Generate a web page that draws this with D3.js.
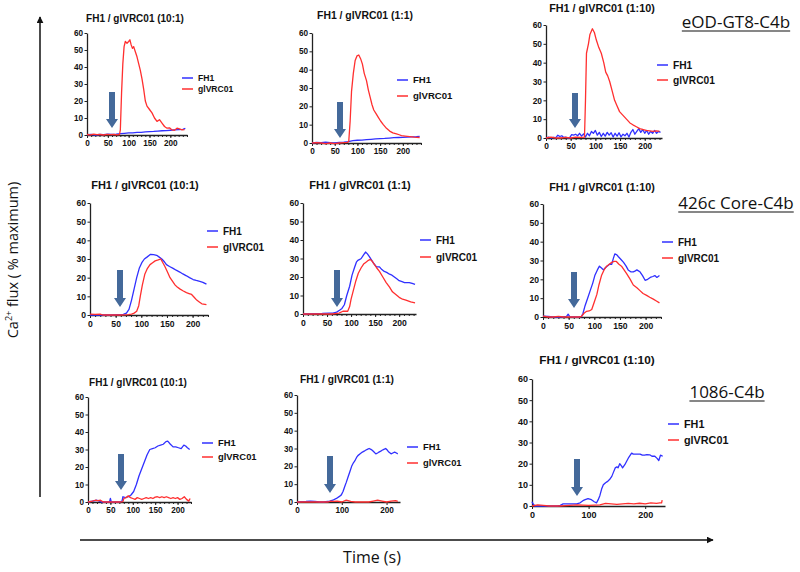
<!DOCTYPE html>
<html><head><meta charset="utf-8">
<script src="https://cdn.jsdelivr.net/npm/d3@7"></script>
<style>body{margin:0;background:#fff} svg{display:block}</style>
</head><body><svg id="c" width="800" height="572"></svg>
<script>
// ---------- DATA ----------
const antigens = ["eOD-GT8-C4b", "426c Core-C4b", "1086-C4b"];
const ratios = ["10:1", "1:1", "1:10"];
const seriesNames = ["FH1", "glVRC01"];
const yTickValues = [0, 10, 20, 30, 40, 50, 60];
const xTicksFine = [0, 50, 100, 150, 200];
const xTicksCoarse = [0, 100, 200];
const yAxisLabel = ["Ca", "2+", " flux ( % maximum)"];
const xAxisLabel = "Time (s)";

// eOD-GT8-C4b
const eod_r10_fh1 = [[0,0.2],[10,0.4],[20,0],[30,0.3],[40,0.2],[50,0.5],[60,0.3],[70,0.5],[80,0.8],[90,1],[100,1.2],[110,1.3],[120,1.5],[130,1.6],[140,1.8],[150,2],[160,2.1],[170,2.3],[180,2.5],[190,2.6],[200,2.8],[210,3],[220,3.2],[230,3.3],[236,3.9]];
const eod_r10_gl = [[0,0.3],[8,0.1],[16,0.5],[24,0.2],[32,0.3],[40,0],[48,0.4],[56,0.2],[64,0.3],[72,0.1],[78,0.3],[80,3],[83,25],[86,42],[89,52],[92,55],[96,54],[100,55],[103,56],[106,53],[109,51],[112,52],[116,49],[120,46],[124,42],[128,38],[132,33],[136,27],[140,20],[144,17],[150,15],[156,13],[162,10],[168,8],[174,9],[180,7],[186,5],[192,4],[198,4.2],[204,3],[210,2.8],[216,4],[222,3.6],[228,3],[234,3.2]];
const eod_r1_fh1 = [[0,0],[10,0.3],[20,0.2],[30,0.5],[40,0.2],[50,0],[60,0.3],[70,0.5],[80,0.8],[90,1.3],[100,1.5],[110,1.6],[120,1.8],[130,2],[140,2.2],[150,2.4],[160,2.5],[170,2.7],[180,2.9],[190,3],[200,3.1],[210,3.2],[220,3.3],[230,3.4],[237,3.6]];
const eod_r1_gl = [[0,0],[10,0.2],[20,0],[30,-0.3],[40,0],[50,-0.4],[60,0],[70,0.2],[78,0.3],[81,1],[84,12],[87,28],[91,38],[95,45],[99,47.5],[103,48],[107,46],[111,43],[115,38],[120,34],[124,29],[128,25],[132,21],[136,18],[141,16],[146,14],[151,12],[157,10],[164,8],[171,6.5],[178,5.5],[186,5],[192,4.5],[197,4],[205,3.8],[215,3.5],[225,3.2],[237,3]];
const eod_r01_fh1 = [[0,0],[5,0.5],[10,0],[15,0.3],[20,0.2],[24,1.5],[28,0.8],[32,1.2],[36,0.3],[40,0.5],[44,0],[48,0.2],[52,1.8],[56,1.5],[60,2],[64,1.2],[68,2.5],[72,1],[76,2.2],[80,0.5],[84,2.5],[88,1.2],[92,3.5],[96,2.5],[100,4],[104,1.5],[108,3],[112,0.8],[116,2.5],[120,1],[124,3],[128,1.5],[132,2.8],[136,0.5],[140,2.5],[144,1],[148,2.8],[152,0.6],[156,2],[160,1.2],[164,2.5],[168,0.5],[172,3],[176,4.5],[180,2],[184,3.5],[188,5],[192,3],[196,4.5],[200,2.5],[204,4],[208,2],[212,3.5],[216,2.5],[220,4],[224,2.5],[228,3.5],[232,3]];
const eod_r01_gl = [[0,0],[10,0.5],[20,0],[30,0],[40,0.3],[50,0],[60,0.5],[70,0.3],[78,0.5],[80,20],[82,45],[86,50],[89,55],[94,58],[98,56],[102,52],[107,48],[112,45],[117,40],[121,35],[125,33],[129,30],[134,25],[139,20],[144,17],[149,14],[156,12],[163,10],[170,8],[176,7],[183,6],[190,5],[197,4.5],[203,4],[210,3.8],[217,3.5],[224,3.8],[230,3.5]];

// 426c Core-C4b
const core_r10_fh1 = [[0,0],[20,0],[40,0],[55,0.2],[65,0.3],[71,1],[76,3],[81,8],[86,14],[91,20],[96,25],[101,28],[106,30],[111,31],[118,32.5],[124,32.3],[130,32],[135,31],[140,30],[145,28.5],[149,27],[155,26],[162,25],[168,24],[175,23],[181,22],[188,21],[194,20],[201,19],[207,18.5],[214,18],[220,17.5],[227,16.5]];
const core_r10_gl = [[0,0.5],[10,0.3],[20,0.5],[25,0],[40,0],[60,0],[75,0.2],[81,0.5],[86,1],[91,2],[95,5],[98,10],[102,16],[107,22],[112,25],[117,27],[122,28],[127,29],[133,29.5],[138,30],[142,28],[146,26],[151,23],[156,20],[161,18],[166,16],[170,15],[175,14],[181,13],[188,12],[193,11.5],[198,11],[203,9.5],[208,8],[213,7],[218,6],[227,5.5]];
const core_r1_fh1 = [[0,0],[20,0.2],[40,0.3],[55,0.5],[62,0.5],[70,1],[76,2],[81,3],[86,5],[91,10],[97,15],[102,21],[107,25],[111,28],[114,29],[118,29.5],[121,30],[126,32],[130,33.5],[134,32.5],[138,31],[143,29],[148,27],[153,25.5],[159,25.5],[164,24],[169,23],[174,22.5],[180,21.5],[185,21],[190,20],[195,19],[200,18],[206,17.5],[211,17],[216,17],[221,17],[227,16.5],[233,16]];
const core_r1_gl = [[0,0],[20,0],[40,0],[60,0],[75,0.5],[83,1.5],[88,1.5],[93,1.5],[97,4],[100,8],[105,13],[110,18],[115,22],[121,25],[126,27],[131,28],[136,29],[140,29.5],[144,28.5],[148,27],[153,25],[159,23],[166,20],[173,17],[180,14.5],[186,12],[193,10.5],[200,9],[207,8],[214,7.5],[224,6.5],[233,6]];
const core_r01_fh1 = [[0,0.5],[10,0.3],[20,0],[30,0],[40,0],[46,0.3],[49,1.5],[52,0.2],[60,0],[70,0],[75,0.2],[78,2],[82,6],[87,10],[92,14],[97,18],[101,22],[106,25],[110,27],[114,26],[118,25],[121,26],[125,27],[130,28],[134,28],[137,31],[140,33.5],[144,33],[147,32],[152,30.5],[157,29],[162,27],[166,25],[171,24],[176,24],[180,24.5],[183,25],[186,24.5],[189,24],[194,22],[199,19.5],[204,20],[209,21],[214,21.5],[218,22],[222,21],[227,22]];
const core_r01_gl = [[0,0.5],[10,0],[20,0],[30,0.3],[40,0],[50,0],[60,0],[70,0],[75,0.3],[80,2],[85,3],[90,3.2],[95,4],[100,8],[105,12],[109,17],[114,22],[119,25],[124,27],[129,28],[134,29],[139,29.5],[143,29.5],[148,28],[153,27],[158,25],[163,23],[170,20],[176,17],[183,15.5],[189,14],[195,12.5],[202,11.5],[208,10.5],[215,9.5],[221,8.5],[227,7.5]];

// 1086-C4b
const c1086_r10_fh1 = [[0,0],[10,0.5],[20,1],[25,0.5],[30,0],[40,0],[48,0],[50,2],[52,0],[60,0],[70,0],[76,0.5],[78,3],[84,2.5],[90,3],[96,4],[102,6],[108,10],[114,15],[120,19],[126,23],[132,27],[138,30],[144,30.5],[150,31],[156,32],[162,32.5],[168,33],[174,34.5],[178,34.8],[184,33],[190,31.5],[196,31.5],[202,31],[208,30.5],[214,32.5],[218,32],[222,31],[227,30]];
const c1086_r10_gl = [[0,0],[10,0.5],[16,1],[22,0.8],[28,1],[34,0],[40,0],[50,0],[60,0],[70,0],[78,0.2],[80,2],[85,2.5],[90,3.5],[95,2.5],[100,2],[105,1.5],[110,2.5],[115,2],[120,1.5],[125,2],[130,2.5],[135,2],[140,2.5],[145,2],[150,2.8],[155,3],[160,2.5],[165,3],[170,2.5],[175,3],[180,2.5],[185,2],[190,2.5],[195,2],[200,2.5],[205,1.5],[210,2],[215,3],[220,1.5],[225,0.5],[228,2]];
const c1086_r1_fh1 = [[0,0],[10,0.2],[20,0.3],[30,0.5],[40,0.3],[50,0],[60,0],[73,0.5],[80,1],[88,2],[94,3],[99,4],[103,6],[107,9],[110,11],[114,14],[118,17],[122,20],[126,22],[129,23],[133,25],[136,26],[141,27],[146,28],[150,28.5],[153,29],[157,29.5],[161,30],[165,29.5],[168,29],[172,28],[176,27],[180,27.5],[183,28],[187,28.5],[190,29],[194,29.5],[198,30],[202,29],[205,28],[210,27],[214,27.5],[218,28],[222,27.5],[225,27]];
const c1086_r1_gl = [[0,0],[20,0],[40,0],[60,0],[70,0],[75,0.5],[80,0.3],[90,0.5],[100,0],[110,1],[120,0.3],[130,0],[150,0],[160,0],[170,0.5],[180,1],[190,0.5],[200,0],[210,0.5],[220,0.8],[225,0.3]];
const c1086_r01_fh1 = [[0,2],[2,1],[5,0],[15,0],[30,0],[45,0],[50,0.3],[55,1],[65,1],[75,1],[79,1],[85,1.5],[90,2.5],[94,3],[99,3.5],[105,3],[110,2],[114,1.5],[117,3],[120,5],[123,8],[126,10],[130,11],[133,11.5],[137,12.5],[141,14],[144,16],[147,18],[150,18.5],[152,18],[155,20],[158,19],[160,18],[164,19.5],[167,21],[171,23],[176,25],[179,24.5],[182,24.5],[186,24.5],[191,24.5],[195,24],[199,24],[203,24.3],[208,24.2],[212,23.5],[217,23.5],[221,22.5],[224,21.5],[227,24],[231,23.5]];
const c1086_r01_gl = [[0,0],[10,0.5],[20,0.3],[30,0],[50,0],[60,0.2],[80,0.5],[100,0.3],[120,0.5],[130,1.2],[140,1],[150,0.8],[160,1],[170,1.2],[180,1],[190,1.3],[200,1],[210,1.5],[220,1.2],[226,1.5],[229,1.5],[230,2.8]];

const seriesData = [
  [[eod_r10_fh1, eod_r10_gl], [eod_r1_fh1, eod_r1_gl], [eod_r01_fh1, eod_r01_gl]],
  [[core_r10_fh1, core_r10_gl], [core_r1_fh1, core_r1_gl], [core_r01_fh1, core_r01_gl]],
  [[c1086_r10_fh1, c1086_r10_gl], [c1086_r1_fh1, c1086_r1_gl], [c1086_r01_fh1, c1086_r01_gl]]
];

// ---------- LAYOUT (pixels) ----------
// x0,x1: x-axis pixel range ; xMax: domain end ; yT,yB: pixel for 60 and 0
const layout = [
  [ {x0:87,x1:187,xMax:240,yT:33,yB:135, tx:135,ty:18,ts:10, lx:182,ly:78,lg:11,ls:8.6, ax:112,aT:92,aB:128, fine:true, fs:8.2},
    {x0:312,x1:421,xMax:240,yT:33,yB:143, tx:365,ty:15,ts:10.4, lx:397,ly:80,lg:16,ls:9.6, ax:340,aT:102,aB:138, fine:true, fs:8.2},
    {x0:546,x1:662,xMax:235,yT:25,yB:138, tx:602,ty:8,ts:10.8, lx:657,ly:65,lg:15,ls:10.2, ax:575,aT:93,aB:128, fine:true, fs:8.4} ],
  [ {x0:90,x1:208,xMax:230,yT:203,yB:315, tx:145,ty:185,ts:11, lx:207,ly:231,lg:16,ls:10, ax:120,aT:270,aB:307, fine:true, fs:8.6},
    {x0:303,x1:416,xMax:235,yT:203,yB:314, tx:360,ty:185,ts:11, lx:420,ly:240,lg:17,ls:10, ax:337,aT:270,aB:307, fine:true, fs:8.6},
    {x0:543,x1:661,xMax:230,yT:204,yB:317, tx:602,ty:187,ts:10.8, lx:662,ly:242,lg:16,ls:10, ax:574,aT:272,aB:308, fine:true, fs:8.6} ],
  [ {x0:88,x1:191,xMax:230,yT:397,yB:502, tx:138,ty:382,ts:10, lx:202,ly:443,lg:14,ls:9.4, ax:121,aT:454,aB:490, fine:true, fs:8.2},
    {x0:297,x1:400,xMax:230,yT:395,yB:502, tx:347,ty:379,ts:10.2, lx:407,ly:447,lg:16,ls:9.4, ax:330,aT:456,aB:493, fine:false, fs:8.2},
    {x0:532,x1:665,xMax:235,yT:379,yB:506, tx:597,ty:360,ts:11.8, lx:668,ly:424,lg:16,ls:10.8, ax:577,aT:459,aB:496, fine:false, fs:9} ]
];
const antigenLabelPos = [ {x:736, y:28}, {x:736, y:209}, {x:727, y:398} ];

const colors = { FH1: "#3030ff", glVRC01: "#ff2f2f", arrow: "#44699a", axis: "#222" };
const svg = d3.select("#c");
const font = "'Liberation Sans', Arial, sans-serif";
const font2 = "'Open Sans', 'Noto Sans', sans-serif";

// ---------- PANELS ----------
antigens.forEach((ag, r) => {
  ratios.forEach((ratio, c) => {
    const L = layout[r][c];
    const x = d3.scaleLinear().domain([0, L.xMax]).range([L.x0, L.x1]);
    const y = d3.scaleLinear().domain([0, 60]).range([L.yB, L.yT]);
    const g = svg.append("g");

    g.append("text").attr("x", L.tx).attr("y", L.ty + L.ts * 0.36)
      .attr("text-anchor", "middle").attr("font-family", font).attr("font-weight", "bold")
      .attr("font-size", L.ts).attr("fill", "#111").text(`FH1 / glVRC01 (${ratio})`);

    g.append("g").attr("transform", `translate(${L.x0},0)`)
      .call(d3.axisLeft(y).tickValues(yTickValues).tickSize(2.5).tickSizeOuter(0).tickPadding(1.5));
    g.append("g").attr("transform", `translate(0,${L.yB})`)
      .call(d3.axisBottom(x).tickValues(L.fine ? xTicksFine : xTicksCoarse).tickSize(3).tickSizeOuter(0).tickPadding(2.5));
    if (L.fine) {
      g.append("g").attr("transform", `translate(0,${L.yB})`)
        .call(d3.axisBottom(x).tickValues(d3.range(0, L.xMax + 1, 10)).tickSize(2).tickSizeOuter(0).tickFormat(""))
        .call(s => s.select(".domain").remove());
    }
    g.selectAll(".domain").attr("stroke", colors.axis).attr("stroke-width", 1.3);
    g.selectAll(".tick line").attr("stroke", colors.axis).attr("stroke-width", 1);
    g.selectAll(".tick text").attr("font-family", font).attr("font-weight", "bold")
      .attr("font-size", L.fs).attr("fill", "#111");

    const line = d3.line().x(d => x(d[0])).y(d => y(d[1]));
    const pair = seriesData[r][c];
    seriesNames.forEach((name, i) => {
      g.append("path").datum(pair[i]).attr("d", line)
        .attr("fill", "none").attr("stroke", colors[name]).attr("stroke-width", 1.3)
        .attr("stroke-linejoin", "round");
    });

    const sw = 3, hw = 6, hl = 9;
    const p = d3.path();
    p.moveTo(L.ax - sw, L.aT); p.lineTo(L.ax + sw, L.aT); p.lineTo(L.ax + sw, L.aB - hl);
    p.lineTo(L.ax + hw, L.aB - hl); p.lineTo(L.ax, L.aB); p.lineTo(L.ax - hw, L.aB - hl);
    p.lineTo(L.ax - sw, L.aB - hl); p.closePath();
    g.append("path").attr("d", p.toString()).attr("fill", colors.arrow);

    seriesNames.forEach((name, i) => {
      const ly = L.ly + i * L.lg;
      g.append("line").attr("x1", L.lx).attr("x2", L.lx + 11).attr("y1", ly).attr("y2", ly)
        .attr("stroke", colors[name]).attr("stroke-width", 1.5);
      g.append("text").attr("x", L.lx + 16).attr("y", ly + L.ls * 0.36)
        .attr("font-family", font).attr("font-weight", "bold").attr("font-size", L.ls)
        .attr("fill", "#111").text(name);
    });
  });

  const P = antigenLabelPos[r];
  const t = svg.append("text").attr("x", P.x).attr("y", P.y).attr("text-anchor", "middle")
    .attr("font-family", font2).attr("font-size", 17).attr("fill", "#111").text(ag);
  const bb = t.node().getBBox();
  svg.append("line").attr("x1", bb.x).attr("x2", bb.x + bb.width)
    .attr("y1", P.y + 3).attr("y2", P.y + 3).attr("stroke", "#111").attr("stroke-width", 1.2);
});

// ---------- GLOBAL AXES ----------
svg.append("defs").append("marker").attr("id", "ah").attr("viewBox", "0 0 10 10")
  .attr("refX", 9).attr("refY", 5).attr("markerWidth", 7).attr("markerHeight", 7)
  .attr("markerUnits", "userSpaceOnUse").attr("orient", "auto")
  .append("path").attr("d", "M0,0L10,5L0,10Z").attr("fill", "#111");
svg.append("line").attr("x1", 40).attr("y1", 497).attr("x2", 40).attr("y2", 17)
  .attr("stroke", "#111").attr("stroke-width", 1.5).attr("marker-end", "url(#ah)");
svg.append("line").attr("x1", 80).attr("y1", 540).attr("x2", 713).attr("y2", 540)
  .attr("stroke", "#111").attr("stroke-width", 1.5).attr("marker-end", "url(#ah)");

const yl = svg.append("text").attr("transform", "translate(18,260) rotate(-90)")
  .attr("text-anchor", "middle").attr("font-family", font2).attr("font-size", 14.5).attr("fill", "#111");
yl.append("tspan").text(yAxisLabel[0]);
yl.append("tspan").attr("font-size", 9).attr("dy", -6).text(yAxisLabel[1]);
yl.append("tspan").attr("dy", 6).text(yAxisLabel[2]);

svg.append("text").attr("x", 372).attr("y", 563).attr("text-anchor", "middle")
  .attr("font-family", font2).attr("font-size", 16).attr("fill", "#111").text(xAxisLabel);
</script></body></html>
